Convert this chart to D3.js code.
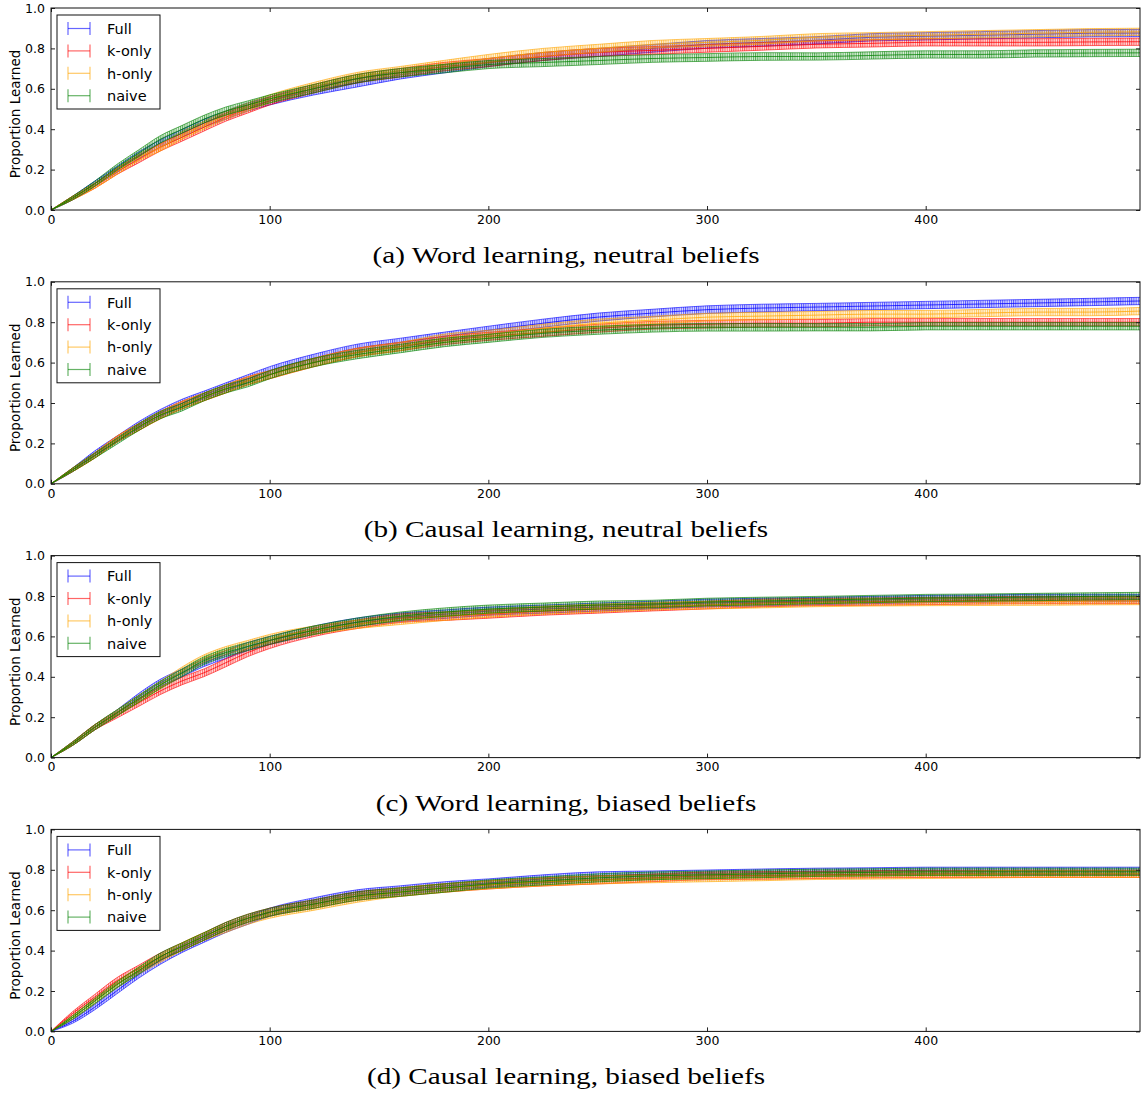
<!DOCTYPE html>
<html>
<head>
<meta charset="utf-8">
<script src="https://cdn.jsdelivr.net/npm/d3@7"></script>
<style>
  body { margin: 0; background: #fff; }
  text { font-family: "DejaVu Sans", sans-serif; }
</style>
</head>
<body>
<svg id="fig" width="1142" height="1095"></svg>
<script>
// sample times (x axis) where the curves were read
const steps = [0, 10, 20, 30, 40, 50, 60, 70, 80, 90, 100, 120, 140, 160, 180, 200, 225, 250, 275, 300, 325, 350, 375, 400, 425, 450, 475, 498];
// half height of the error bars at those times
const errHalf = [0, .009, .013, .015, .017, .018, .019, .019, .02, .02, .02, .021, .021, .021, .021, .02, .02, .02, .019, .019, .019, .018, .018, .018, .018, .018, .018, .018];

const seriesNames = ["Full", "k-only", "h-only", "naive"];
const captions = [
  "(a) Word learning, neutral beliefs",
  "(b) Causal learning, neutral beliefs",
  "(c) Word learning, biased beliefs",
  "(d) Causal learning, biased beliefs"
];
const xTicks = [0, 100, 200, 300, 400];
const yTicks = [0, 0.2, 0.4, 0.6, 0.8, 1.0];

// (a) word learning, neutral
const aFull  = [0, .06, .13, .20, .27, .33, .38, .43, .47, .51, .54, .59, .63, .67, .70, .73, .76, .78, .80, .82, .83, .84, .855, .86, .865, .87, .875, .876];
const aKonly = [0, .06, .12, .19, .25, .31, .36, .41, .46, .50, .54, .60, .65, .68, .71, .73, .76, .78, .79, .80, .81, .82, .825, .83, .83, .83, .832, .833];
const aHonly = [0, .06, .12, .19, .26, .31, .37, .42, .47, .51, .55, .61, .66, .69, .72, .75, .78, .80, .82, .83, .84, .855, .86, .865, .87, .875, .88, .882];
const aNaive = [0, .06, .13, .21, .28, .35, .40, .45, .49, .52, .55, .60, .65, .68, .70, .72, .73, .74, .75, .755, .76, .76, .765, .77, .77, .775, .777, .778];
// (b) causal learning, neutral
const bFull  = [0, .07, .15, .22, .29, .35, .40, .44, .48, .52, .56, .62, .67, .70, .73, .76, .795, .825, .845, .862, .87, .875, .88, .885, .89, .895, .90, .905];
const bKonly = [0, .07, .14, .22, .28, .34, .39, .43, .47, .51, .54, .60, .65, .68, .71, .73, .75, .77, .785, .79, .795, .795, .80, .80, .80, .80, .80, .80];
const bHonly = [0, .07, .14, .22, .28, .34, .39, .43, .47, .51, .54, .60, .65, .68, .72, .74, .77, .795, .81, .825, .83, .835, .84, .84, .845, .85, .85, .855];
const bNaive = [0, .07, .14, .21, .28, .34, .38, .43, .47, .50, .54, .60, .64, .67, .70, .72, .745, .76, .77, .775, .775, .775, .775, .78, .78, .78, .78, .78];
// (c) word learning, biased
const cFull  = [0, .07, .15, .22, .30, .37, .42, .47, .51, .55, .58, .63, .67, .695, .71, .725, .735, .745, .755, .765, .77, .775, .78, .785, .787, .79, .79, .79];
const cKonly = [0, .07, .15, .21, .27, .33, .38, .42, .47, .52, .56, .62, .66, .69, .70, .71, .725, .735, .745, .755, .765, .77, .772, .775, .778, .78, .78, .78];
const cHonly = [0, .07, .15, .22, .29, .36, .43, .49, .53, .56, .59, .63, .66, .68, .70, .715, .73, .74, .75, .755, .76, .765, .768, .77, .771, .772, .774, .775];
const cNaive = [0, .07, .15, .22, .29, .36, .42, .48, .52, .55, .58, .63, .67, .70, .72, .735, .745, .755, .76, .77, .775, .78, .785, .79, .792, .795, .798, .80];
// (d) causal learning, biased
const dFull  = [0, .05, .12, .20, .28, .35, .41, .46, .51, .55, .59, .64, .68, .70, .72, .735, .755, .77, .775, .78, .785, .79, .792, .795, .795, .795, .795, .795];
const dKonly = [0, .09, .17, .25, .31, .37, .42, .47, .52, .56, .59, .63, .67, .69, .71, .725, .74, .75, .76, .77, .772, .775, .778, .78, .78, .78, .78, .78];
const dHonly = [0, .07, .15, .23, .30, .36, .42, .47, .51, .55, .58, .62, .66, .69, .71, .725, .74, .75, .755, .76, .765, .77, .772, .775, .777, .78, .78, .78];
const dNaive = [0, .07, .15, .23, .30, .37, .42, .47, .52, .56, .59, .63, .67, .69, .71, .73, .745, .76, .77, .775, .78, .785, .787, .79, .79, .79, .79, .79];

const panels = [
  [aFull, aKonly, aHonly, aNaive],
  [bFull, bKonly, bHonly, bNaive],
  [cFull, cKonly, cHonly, cNaive],
  [dFull, dKonly, dHonly, dNaive]
];

const colors = ["#0000ff", "#ff0000", "#ffa500", "#008000"];

let width = 1142,
    margins = {left: 51, right: 2, top: 8},
    panelH = 202,
    panelStep = 273.8;

let svg = d3.select("#fig");
let x = d3.scaleLinear().domain([0, 498]).range([margins.left, width - margins.right]);

// vertical hatching that stands in for the dense error bars (one bar per step)
let defs = svg.append("defs");
colors.forEach((c, k) => {
  let unit = x(1) - x(0);
  let p = defs.append("pattern")
    .attr("id", "hatch" + k)
    .attr("patternUnits", "userSpaceOnUse")
    .attr("x", x(0))
    .attr("width", unit)
    .attr("height", 8);
  p.append("line")
    .attr("x1", 0.5).attr("x2", 0.5)
    .attr("y1", 0).attr("y2", 8)
    .attr("stroke", c)
    .attr("stroke-opacity", 0.6)
    .attr("stroke-width", 1);
});

function rows(vals) {
  return steps.map((t, j) => ({t: t, v: vals[j], e: errHalf[j]}));
}

function draw_panel(i) {
  let top = margins.top + i * panelStep;
  let y = d3.scaleLinear().domain([0, 1]).range([top + panelH, top]);
  let g = svg.append("g").attr("class", "panel");

  defs.append("clipPath").attr("id", "clip" + i)
    .append("rect")
    .attr("x", x(0)).attr("y", top)
    .attr("width", x(498) - x(0)).attr("height", panelH);

  let plot = g.append("g").attr("clip-path", `url(#clip${i})`);

  let band = d3.area()
    .x(d => x(d.t))
    .y0(d => y(d.v - d.e))
    .y1(d => y(d.v + d.e))
    .curve(d3.curveMonotoneX);
  let lo = d3.line().x(d => x(d.t)).y(d => y(d.v - d.e)).curve(d3.curveMonotoneX);
  let hi = d3.line().x(d => x(d.t)).y(d => y(d.v + d.e)).curve(d3.curveMonotoneX);
  let mid = d3.line().x(d => x(d.t)).y(d => y(d.v)).curve(d3.curveMonotoneX);

  panels[i].forEach((vals, k) => {
    let d = rows(vals);
    let s = plot.append("g").attr("class", seriesNames[k]);
    s.append("path").attr("d", band(d))
      .attr("fill", colors[k]).attr("fill-opacity", 0.12);
    s.append("path").attr("d", band(d))
      .attr("fill", `url(#hatch${k})`);
    [lo, hi].forEach(gen => {
      s.append("path").attr("d", gen(d))
        .attr("fill", "none").attr("stroke", colors[k])
        .attr("stroke-opacity", 0.6).attr("stroke-width", 1);
    });
    s.append("path").attr("d", mid(d))
      .attr("fill", "none").attr("stroke", colors[k])
      .attr("stroke-opacity", 0.75).attr("stroke-width", 1);
  });

  // axes, matplotlib classic: inward ticks on all four sides
  let fmt = d3.format(".1f");
  g.append("g")
    .attr("transform", `translate(${x(0)},0)`)
    .call(d3.axisLeft(y).tickValues(yTicks).tickFormat(fmt).tickSizeInner(-4).tickSizeOuter(0).tickPadding(6));
  g.append("g")
    .attr("transform", `translate(${x(498)},0)`)
    .call(d3.axisRight(y).tickValues(yTicks).tickFormat("").tickSizeInner(-4).tickSizeOuter(0));
  g.append("g")
    .attr("transform", `translate(0,${top + panelH})`)
    .call(d3.axisBottom(x).tickValues(xTicks).tickFormat(d3.format("d")).tickSizeInner(-4).tickSizeOuter(0).tickPadding(5));
  g.append("g")
    .attr("transform", `translate(0,${top})`)
    .call(d3.axisTop(x).tickValues(xTicks).tickFormat("").tickSizeInner(-4).tickSizeOuter(0));
  g.selectAll(".domain").remove();
  g.selectAll(".tick text").attr("font-size", 12.5).attr("font-family", "DejaVu Sans").attr("fill", "#000");
  g.selectAll(".tick line").attr("stroke", "#222");

  g.append("rect")
    .attr("x", x(0)).attr("y", top)
    .attr("width", x(498) - x(0)).attr("height", panelH)
    .attr("fill", "none").attr("stroke", "#111").attr("stroke-width", 1);

  g.append("text")
    .attr("transform", `translate(20,${top + panelH / 2 + 5}) rotate(-90)`)
    .attr("text-anchor", "middle")
    .attr("font-size", 13.5)
    .text("Proportion Learned");

  // legend
  let lg = g.append("g").attr("transform", `translate(${x(0) + 6},${top + 7})`);
  lg.append("rect").attr("width", 103).attr("height", 94)
    .attr("fill", "#fff").attr("stroke", "#111").attr("stroke-width", 1);
  seriesNames.forEach((name, k) => {
    let ly = 13.5 + k * 22.4;
    let h = lg.append("g").attr("stroke", colors[k]).attr("stroke-opacity", 0.6).attr("stroke-width", 1.2);
    h.append("line").attr("x1", 11).attr("x2", 33).attr("y1", ly).attr("y2", ly);
    h.append("line").attr("x1", 11).attr("x2", 11).attr("y1", ly - 6.5).attr("y2", ly + 6.5);
    h.append("line").attr("x1", 33).attr("x2", 33).attr("y1", ly - 6.5).attr("y2", ly + 6.5);
    lg.append("text").attr("x", 50).attr("y", ly).attr("dy", "0.36em")
      .attr("font-size", 14.5).text(name);
  });

  // caption under the panel
  return svg.append("text")
    .attr("x", 566).attr("y", top + panelH + 53)
    .attr("text-anchor", "middle")
    .style("font-family", "Liberation Serif, serif")
    .attr("font-size", 24)
    .text(captions[i]);
}

let capNodes = panels.map((p, i) => draw_panel(i));
// stretch the serif captions to the wider Computer Modern look of the original
let k = 387 / capNodes[0].node().getComputedTextLength();
capNodes.forEach(t => {
  let w = t.node().getComputedTextLength();
  t.attr("textLength", w * k).attr("lengthAdjust", "spacingAndGlyphs");
});
</script>
</body>
</html>
